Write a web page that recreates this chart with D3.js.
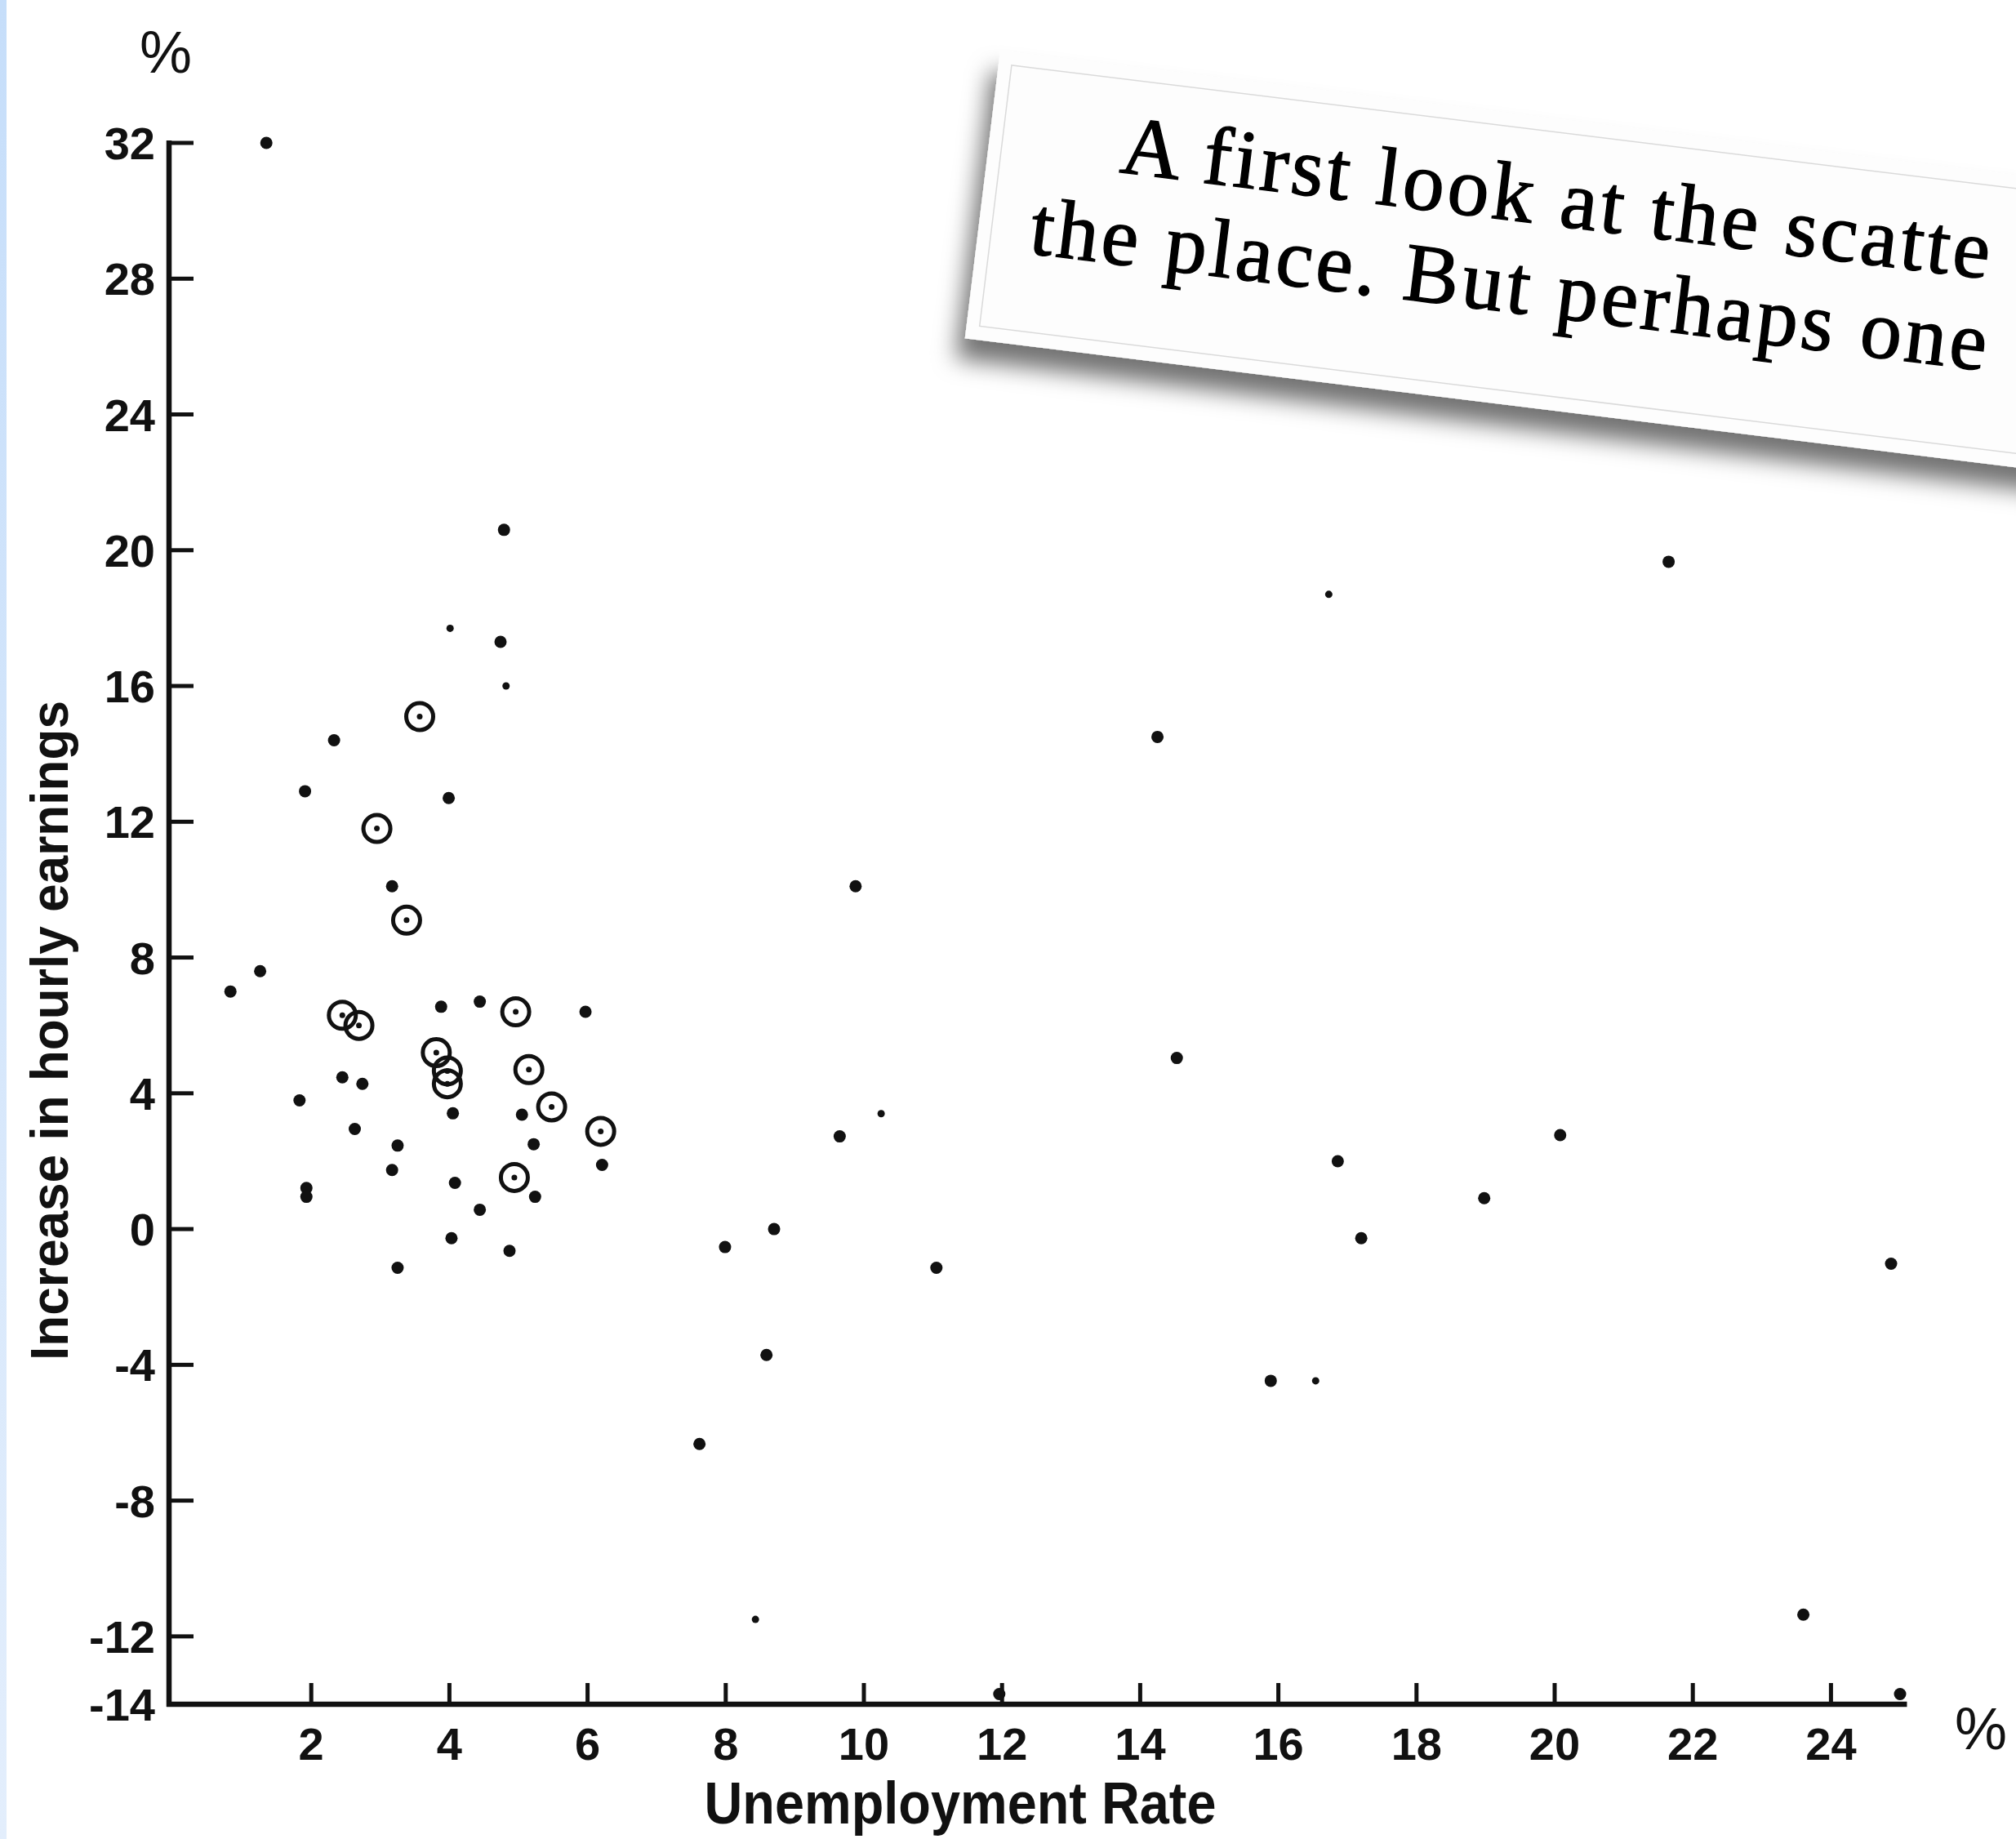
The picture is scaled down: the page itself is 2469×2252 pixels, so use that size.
<!DOCTYPE html>
<html>
<head>
<meta charset="utf-8">
<script src="https://cdn.jsdelivr.net/npm/d3@7"></script>
<style>
  body { margin: 0; background: #fff; }
  svg { display: block; }
</style>
</head>
<body>
<svg id="chart" width="2469" height="2252"></svg>
<script>
// unemployment rate (%) vs increase in hourly earnings (%)
// plain dots
var dotX = [1.35, 4.79, 4.74, 2.33, 1.91, 3.99, 3.17, 1.26, 0.83, 3.88, 4.44, 5.97,
  2.45, 2.74, 1.83, 4.05, 5.05, 2.63, 3.25, 5.22, 3.17, 6.21, 4.08, 1.93, 1.93, 5.24,
  4.44, 4.03, 4.87, 3.25, 7.99, 8.70, 8.59, 7.62, 9.88, 9.65, 11.05, 14.25, 14.53,
  16.86, 17.2, 15.89, 21.65, 20.08, 18.98, 24.87, 23.6, 11.96, 25.0];
var dotY = [32.0, 20.6, 17.3, 14.4, 12.9, 12.7, 10.1, 7.6, 7.0, 6.55, 6.7, 6.4,
  4.47, 4.28, 3.79, 3.41, 3.37, 2.95, 2.46, 2.5, 1.74, 1.89, 1.36, 1.21, 0.95, 0.95,
  0.57, -0.27, -0.64, -1.14, -0.53, 0.0, -3.71, -6.33, 10.1, 2.73, -1.14, 14.5, 5.04,
  2.0, -0.27, -4.47, 19.66, 2.77, 0.91, -1.02, -11.36, -13.7, -13.7];

// faint small marks
var faintX = [4.01, 4.82, 8.43, 10.25, 16.73, 16.54];
var faintY = [17.7, 16.0, -11.5, 3.4, 18.7, -4.47];

// circled points
var ringX = [3.57, 2.95, 3.38, 2.45, 2.69, 4.96, 3.81, 3.97, 3.97, 5.15, 5.48, 6.19, 4.94];
var ringY = [15.1, 11.8, 9.1, 6.3, 6.0, 6.4, 5.2, 4.66, 4.28, 4.7, 3.6, 2.88, 1.52];

var xTicks = [2, 4, 6, 8, 10, 12, 14, 16, 18, 20, 22, 24];
var yTicks = [32, 28, 24, 20, 16, 12, 8, 4, 0, -4, -8, -12, -14];

var noteLines = ["A first look at the scatte", "the place. But perhaps one"];

var svg = d3.select("#chart");
var ink = "#111";
var sans = "Liberation Sans, Arial, sans-serif";

// left blue strip
var defs = svg.append("defs");
var grad = defs.append("linearGradient").attr("id", "strip")
  .attr("x1", 0).attr("y1", 0).attr("x2", 0).attr("y2", 1);
grad.append("stop").attr("offset", "0%").attr("stop-color", "#c6defa");
grad.append("stop").attr("offset", "100%").attr("stop-color", "#e3eefc");
svg.append("rect").attr("x", 0).attr("y", 0).attr("width", 8).attr("height", 2252)
  .attr("fill", "url(#strip)");

// scales
var xScale = d3.scaleLinear().domain([0, 25]).range([212, 2327]);
var yScale = d3.scaleLinear().domain([-14, 32]).range([2087, 175]);
var axisX = xScale(0) - 5;

// axis lines
svg.append("line")
  .attr("x1", axisX).attr("x2", axisX)
  .attr("y1", yScale(32) - 3).attr("y2", yScale(-14) + 3)
  .attr("stroke", ink).attr("stroke-width", 6.5);
svg.append("line")
  .attr("x1", axisX - 3).attr("x2", xScale(25.1))
  .attr("y1", yScale(-14)).attr("y2", yScale(-14))
  .attr("stroke", ink).attr("stroke-width", 6.5);

// y ticks point inward
svg.selectAll(".ytick")
  .data(yTicks.filter((d) => d != -14))
  .enter()
  .append("line")
  .attr("class", "ytick")
  .attr("x1", axisX).attr("x2", axisX + 30)
  .attr("y1", (d) => yScale(d)).attr("y2", (d) => yScale(d))
  .attr("stroke", ink).attr("stroke-width", 5);

svg.selectAll(".ylab")
  .data(yTicks)
  .enter()
  .append("text")
  .attr("class", "ylab")
  .attr("x", 190)
  .attr("y", (d) => yScale(d) + 20)
  .attr("text-anchor", "end")
  .style("font-family", sans)
  .style("font-weight", "bold")
  .style("font-size", "56px")
  .style("fill", ink)
  .text((d) => d);

// x ticks point up
svg.selectAll(".xtick")
  .data(xTicks)
  .enter()
  .append("line")
  .attr("class", "xtick")
  .attr("x1", (d) => xScale(d)).attr("x2", (d) => xScale(d))
  .attr("y1", yScale(-14)).attr("y2", yScale(-14) - 26)
  .attr("stroke", ink).attr("stroke-width", 5);

svg.selectAll(".xlab")
  .data(xTicks)
  .enter()
  .append("text")
  .attr("class", "xlab")
  .attr("x", (d) => xScale(d))
  .attr("y", 2155)
  .attr("text-anchor", "middle")
  .style("font-family", sans)
  .style("font-weight", "bold")
  .style("font-size", "56px")
  .style("fill", ink)
  .text((d) => d);

// percent signs
svg.append("text")
  .attr("x", 203).attr("y", 89)
  .attr("text-anchor", "middle")
  .style("font-family", sans)
  .style("font-size", "72px")
  .style("fill", ink)
  .text("%");
svg.append("text")
  .attr("x", 2426).attr("y", 2142)
  .attr("text-anchor", "middle")
  .style("font-family", sans)
  .style("font-size", "72px")
  .style("fill", ink)
  .text("%");

// axis titles
svg.append("text")
  .attr("x", 1176).attr("y", 2233)
  .attr("text-anchor", "middle")
  .attr("textLength", 627)
  .attr("lengthAdjust", "spacingAndGlyphs")
  .style("font-family", sans)
  .style("font-weight", "bold")
  .style("font-size", "72px")
  .style("fill", ink)
  .text("Unemployment Rate");

svg.append("text")
  .attr("transform", "translate(83,1262) rotate(-90)")
  .attr("text-anchor", "middle")
  .attr("textLength", 808)
  .attr("lengthAdjust", "spacingAndGlyphs")
  .style("font-family", sans)
  .style("font-weight", "bold")
  .style("font-size", "64px")
  .style("fill", ink)
  .text("Increase in hourly earnings");

// points
var dots = dotX.map((x, i) => ({ x: x, y: dotY[i] }));
var faint = faintX.map((x, i) => ({ x: x, y: faintY[i] }));
var rings = ringX.map((x, i) => ({ x: x, y: ringY[i] }));

svg.selectAll(".dot")
  .data(dots)
  .enter()
  .append("circle")
  .attr("class", "dot")
  .attr("cx", (d) => xScale(d.x))
  .attr("cy", (d) => yScale(d.y))
  .attr("r", 7.5)
  .style("fill", ink);

svg.selectAll(".faint")
  .data(faint)
  .enter()
  .append("circle")
  .attr("class", "faint")
  .attr("cx", (d) => xScale(d.x))
  .attr("cy", (d) => yScale(d.y))
  .attr("r", 4.5)
  .style("fill", ink);

svg.selectAll(".ring")
  .data(rings)
  .enter()
  .append("circle")
  .attr("class", "ring")
  .attr("cx", (d) => xScale(d.x))
  .attr("cy", (d) => yScale(d.y))
  .attr("r", 16.5)
  .style("fill", "none")
  .style("stroke", ink)
  .style("stroke-width", 5);

svg.selectAll(".ringdot")
  .data(rings)
  .enter()
  .append("circle")
  .attr("class", "ringdot")
  .attr("cx", (d) => xScale(d.x))
  .attr("cy", (d) => yScale(d.y))
  .attr("r", 3.5)
  .style("fill", ink);

// tilted text page with shadow
var shadow = defs.append("filter").attr("id", "shadow")
  .attr("x", "-10%").attr("y", "-30%").attr("width", "130%").attr("height", "180%");
shadow.append("feDropShadow")
  .attr("dx", -8).attr("dy", 26).attr("stdDeviation", 14)
  .attr("flood-color", "#000").attr("flood-opacity", 0.55);

var card = svg.append("g").attr("transform", "translate(1225,62) rotate(7)");
card.append("rect")
  .attr("x", 0).attr("y", 0).attr("width", 1700).attr("height", 355)
  .attr("fill", "#fdfdfd")
  .attr("filter", "url(#shadow)");
card.append("rect")
  .attr("x", 16).attr("y", 16).attr("width", 1700).attr("height", 322)
  .attr("fill", "none")
  .attr("stroke", "#dadada").attr("stroke-width", 1.5);

card.selectAll(".note")
  .data(noteLines)
  .enter()
  .append("text")
  .attr("class", "note")
  .attr("x", (d, i) => (i == 0 ? 162 : 64))
  .attr("y", (d, i) => 130 + i * 112)
  .style("font-family", "Liberation Serif, Times New Roman, serif")
  .style("font-size", "102px")
  .style("letter-spacing", "4px")
  .style("fill", "#000")
  .style("stroke", "#000")
  .style("stroke-width", 1.4)
  .text((d) => d);
</script>
</body>
</html>
